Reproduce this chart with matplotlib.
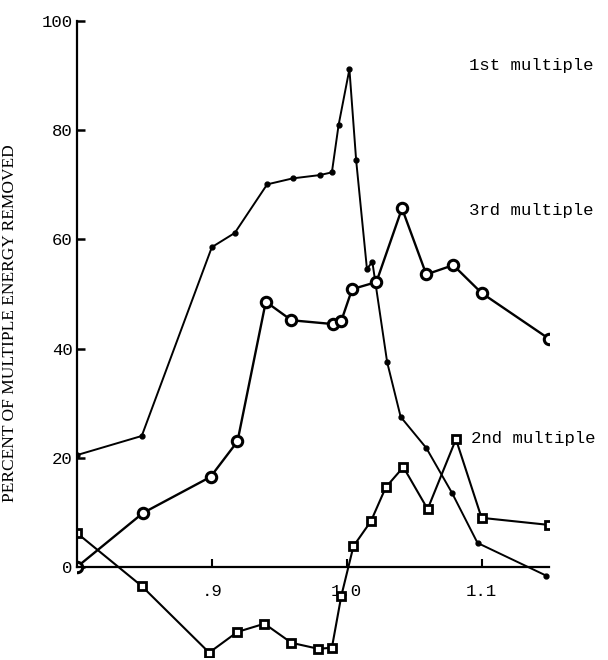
import matplotlib
matplotlib.use("Agg")
from matplotlib import pyplot as plt

# 1st multiple (small dots)
x_first = [0.800, 0.848, 0.900, 0.917, 0.941, 0.960, 0.980, 0.989, 0.994, 1.002,
           1.007, 1.015, 1.019, 1.030, 1.040, 1.059, 1.078, 1.097, 1.148]
y_first = [20.5, 24.0, 58.6, 61.2, 70.1, 71.2, 71.8, 72.3, 81.0, 91.2,
           74.5, 54.6, 55.9, 37.5, 27.5, 21.8, 13.6, 4.4, -1.6]

# 2nd multiple (squares)
x_second = [0.800, 0.848, 0.898, 0.919, 0.939, 0.959, 0.979, 0.989, 0.996, 1.005,
            1.018, 1.029, 1.042, 1.060, 1.081, 1.100, 1.150]
y_second = [6.2, -3.5, -15.7, -11.9, -10.4, -13.9, -15.0, -14.8, -5.3, 3.8,
            8.4, 14.6, 18.3, 10.6, 23.4, 9.0, 7.7]

# 3rd multiple (circles)
x_third = [0.800, 0.849, 0.899, 0.919, 0.940, 0.959, 0.990, 0.996, 1.004, 1.022,
           1.041, 1.059, 1.079, 1.100, 1.150]
y_third = [0.0, 9.9, 16.5, 23.0, 48.6, 45.2, 44.5, 45.1, 50.9, 52.2,
           65.7, 53.6, 55.3, 50.2, 41.8]

y_ticks = [0, 20, 40, 60, 80, 100]
x_ticks = [0.9, 1.0, 1.1]
x_tick_labels = [".9", "1.0", "1.1"]

mono = "Liberation Mono"

fig = plt.figure(figsize=(6.08, 6.6), dpi=100)
ax = fig.add_axes([77 / 608, 3 / 660, 472 / 608, 644 / 660])

ax.plot(x_first, y_first, color="black", lw=1.4, marker="o", ms=3.5,
        mfc="black", mec="black")
ax.plot(x_third, y_third, color="black", lw=1.7, marker="o", ms=7.5,
        mfc="white", mec="black", mew=2.2)
ax.plot(x_second, y_second, color="black", lw=1.5, marker="s", ms=5.5,
        mfc="white", mec="black", mew=2.0)

ax.set_xlim(0.80, 1.15)
ax.set_ylim(-16.5, 101.5)

for s in ["top", "right"]:
    ax.spines[s].set_visible(False)
ax.spines["bottom"].set_position(("data", 0))
ax.spines["left"].set_bounds(0, 100)
ax.spines["left"].set_linewidth(1.6)
ax.spines["bottom"].set_linewidth(1.6)

ax.set_yticks(y_ticks)
ax.set_yticklabels([str(v) for v in y_ticks], family=mono, fontsize=12.5)
ax.set_xticks(x_ticks)
ax.set_xticklabels(x_tick_labels, family=mono, fontsize=12.5)
ax.tick_params(axis="y", direction="in", length=6, width=1.8, pad=3)
ax.tick_params(axis="x", direction="in", length=6, width=1.5, pad=12)

ax.text(1.091, 91.9, "1st multiple", family=mono, fontsize=12.5,
        va="center", ha="left", clip_on=False)
ax.text(1.091, 65.4, "3rd multiple", family=mono, fontsize=12.5,
        va="center", ha="left", clip_on=False)
ax.text(1.092, 23.6, "2nd multiple", family=mono, fontsize=12.5,
        va="center", ha="left", clip_on=False)

fig.text(10 / 608, 1 - 323 / 660, "PERCENT OF MULTIPLE ENERGY REMOVED",
         family="Liberation Serif", fontsize=12.5, rotation=90,
         ha="center", va="center")

fig.savefig("out.png", dpi=100)
